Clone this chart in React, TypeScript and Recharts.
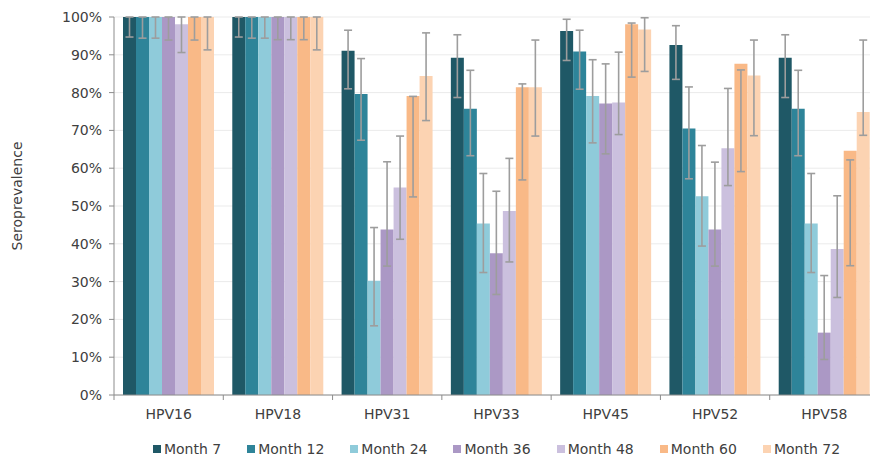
import React from 'react';
import { BarChart, Bar, XAxis, YAxis, CartesianGrid, ErrorBar, Legend } from 'recharts';

const categories = ['HPV16', 'HPV18', 'HPV31', 'HPV33', 'HPV45', 'HPV52', 'HPV58'];

const month7 = [100, 100, 91.1, 89.2, 96.3, 92.6, 89.2];
const month7Lo = [94.7, 94.7, 81.0, 78.7, 88.5, 83.5, 78.7];
const month7Hi = [100, 100, 96.5, 95.3, 99.4, 97.7, 95.3];

const month12 = [100, 100, 79.6, 75.7, 90.9, 70.5, 75.7];
const month12Lo = [94.4, 94.4, 67.4, 63.3, 80.9, 57.2, 63.3];
const month12Hi = [100, 100, 89.0, 85.9, 96.5, 81.5, 85.9];

const month24 = [100, 100, 30.2, 45.4, 79.1, 52.6, 45.4];
const month24Lo = [94.4, 94.4, 18.3, 32.4, 66.7, 39.4, 32.4];
const month24Hi = [100, 100, 44.3, 58.6, 88.7, 66.0, 58.6];

const month36 = [100, 100, 43.8, 37.5, 77.1, 43.8, 16.5];
const month36Lo = [93.9, 94.0, 34.1, 26.6, 63.8, 34.1, 9.4];
const month36Hi = [100, 100, 61.7, 53.9, 87.6, 61.6, 31.6];

const month48 = [98.1, 100, 54.9, 48.7, 77.4, 65.3, 38.6];
const month48Lo = [90.6, 94.0, 41.2, 35.2, 68.9, 55.4, 25.8];
const month48Hi = [100, 100, 68.5, 62.6, 90.7, 81.1, 52.7];

const month60 = [100, 100, 79.1, 81.4, 98.1, 87.6, 64.6];
const month60Lo = [93.9, 94.0, 52.4, 56.9, 84.1, 59.1, 34.2];
const month60Hi = [100, 100, 79.0, 82.3, 98.4, 86.0, 62.2];

const month72 = [100, 100, 84.4, 81.4, 96.7, 84.5, 74.9];
const month72Lo = [91.3, 91.3, 72.6, 68.5, 85.6, 68.6, 68.7];
const month72Hi = [100, 100, 95.8, 93.9, 99.8, 93.9, 93.9];

const yTicks = [0, 10, 20, 30, 40, 50, 60, 70, 80, 90, 100];

const series = [
  { key: 'm7', name: 'Month 7', color: '#1f5866', values: month7, lo: month7Lo, hi: month7Hi },
  { key: 'm12', name: 'Month 12', color: '#2e8499', values: month12, lo: month12Lo, hi: month12Hi },
  { key: 'm24', name: 'Month 24', color: '#8fcbda', values: month24, lo: month24Lo, hi: month24Hi },
  { key: 'm36', name: 'Month 36', color: '#ab98c5', values: month36, lo: month36Lo, hi: month36Hi },
  { key: 'm48', name: 'Month 48', color: '#cbc0de', values: month48, lo: month48Lo, hi: month48Hi },
  { key: 'm60', name: 'Month 60', color: '#f9b987', values: month60, lo: month60Lo, hi: month60Hi },
  { key: 'm72', name: 'Month 72', color: '#fcd3b2', values: month72, lo: month72Lo, hi: month72Hi },
];

const data = categories.map((cat, i) => {
  const row: Record<string, any> = { cat };
  series.forEach((s) => {
    row[s.key] = s.values[i];
    row[s.key + 'Err'] = [s.values[i] - s.lo[i], s.hi[i] - s.values[i]];
  });
  return row;
});

const FONT = 'DejaVu Sans, Verdana, sans-serif';
const TEXT = '#404040';
const AXIS = '#8c8c8c';
const CHART_W = 890;
const CHART_H = 460;
const MARGIN = { top: 17, right: 11, left: 0, bottom: 35 };
const Y_W = 114;
const PLOT_W = CHART_W - MARGIN.left - MARGIN.right - Y_W;
const BAND = PLOT_W / categories.length;

function CategoryTick(props: any) {
  const { x, y, payload } = props;
  const bx = x - BAND / 2;
  return (
    <g>
      <line x1={bx} x2={bx} y1={y - 14} y2={y - 9} stroke={AXIS} strokeWidth={1} />
      <text x={x} y={y} dy="0.71em" textAnchor="middle" fill={TEXT} fontSize={14} fontFamily={FONT}>
        {payload.value}
      </text>
    </g>
  );
}

function LegendContent() {
  return (
    <div style={{ display: 'flex', justifyContent: 'center', alignItems: 'center', width: '100%', fontFamily: FONT, fontSize: 14, color: TEXT, lineHeight: '14px' }}>
      {series.map((s, i) => (
        <div key={s.key} style={{ display: 'flex', alignItems: 'center', marginRight: i === series.length - 1 ? 0 : 26 }}>
          <span style={{ display: 'inline-block', width: 8, height: 8, background: s.color, marginRight: 3 }} />
          <span>{s.name}</span>
        </div>
      ))}
    </div>
  );
}

function YLabel() {
  return (
    <text transform="translate(22,196) rotate(-90)" textAnchor="middle" fill={TEXT} fontSize={14} fontFamily={FONT}>
      Seroprevalence
    </text>
  );
}

export default function App() {
  return (
    <div style={{ position: 'fixed', left: 0, top: 0, width: 870, height: 460, overflow: 'hidden', background: '#fff' }}>
      <BarChart width={CHART_W} height={CHART_H} data={data} margin={MARGIN} barCategoryGap={9} barGap={0}>
        <CartesianGrid vertical={false} stroke="#ebebeb" />
        <XAxis
          dataKey="cat"
          height={30}
          tickSize={5}
          tickMargin={9}
          tickLine={false}
          axisLine={{ stroke: AXIS }}
          tick={<CategoryTick />}
          interval={0}
        />
        <YAxis
          width={Y_W}
          domain={[0, 100]}
          ticks={yTicks}
          tickFormatter={(v: number) => `${v}%`}
          tickSize={5}
          tickMargin={7}
          tickLine={{ stroke: AXIS }}
          axisLine={{ stroke: AXIS }}
          tick={{ fill: TEXT, fontSize: 14, fontFamily: FONT }}
          allowDataOverflow
          label={<YLabel />}
        />
        <Legend
          layout="horizontal"
          verticalAlign="middle"
          align="center"
          content={<LegendContent />}
          wrapperStyle={{ top: 442, left: Y_W, width: PLOT_W }}
        />
        {series.map((s) => (
          <Bar key={s.key} dataKey={s.key} name={s.name} fill={s.color} isAnimationActive={false}>
            <ErrorBar dataKey={s.key + 'Err'} width={4} stroke="#9d9d9d" strokeWidth={1.6} direction="y" />
          </Bar>
        ))}
      </BarChart>
    </div>
  );
}
